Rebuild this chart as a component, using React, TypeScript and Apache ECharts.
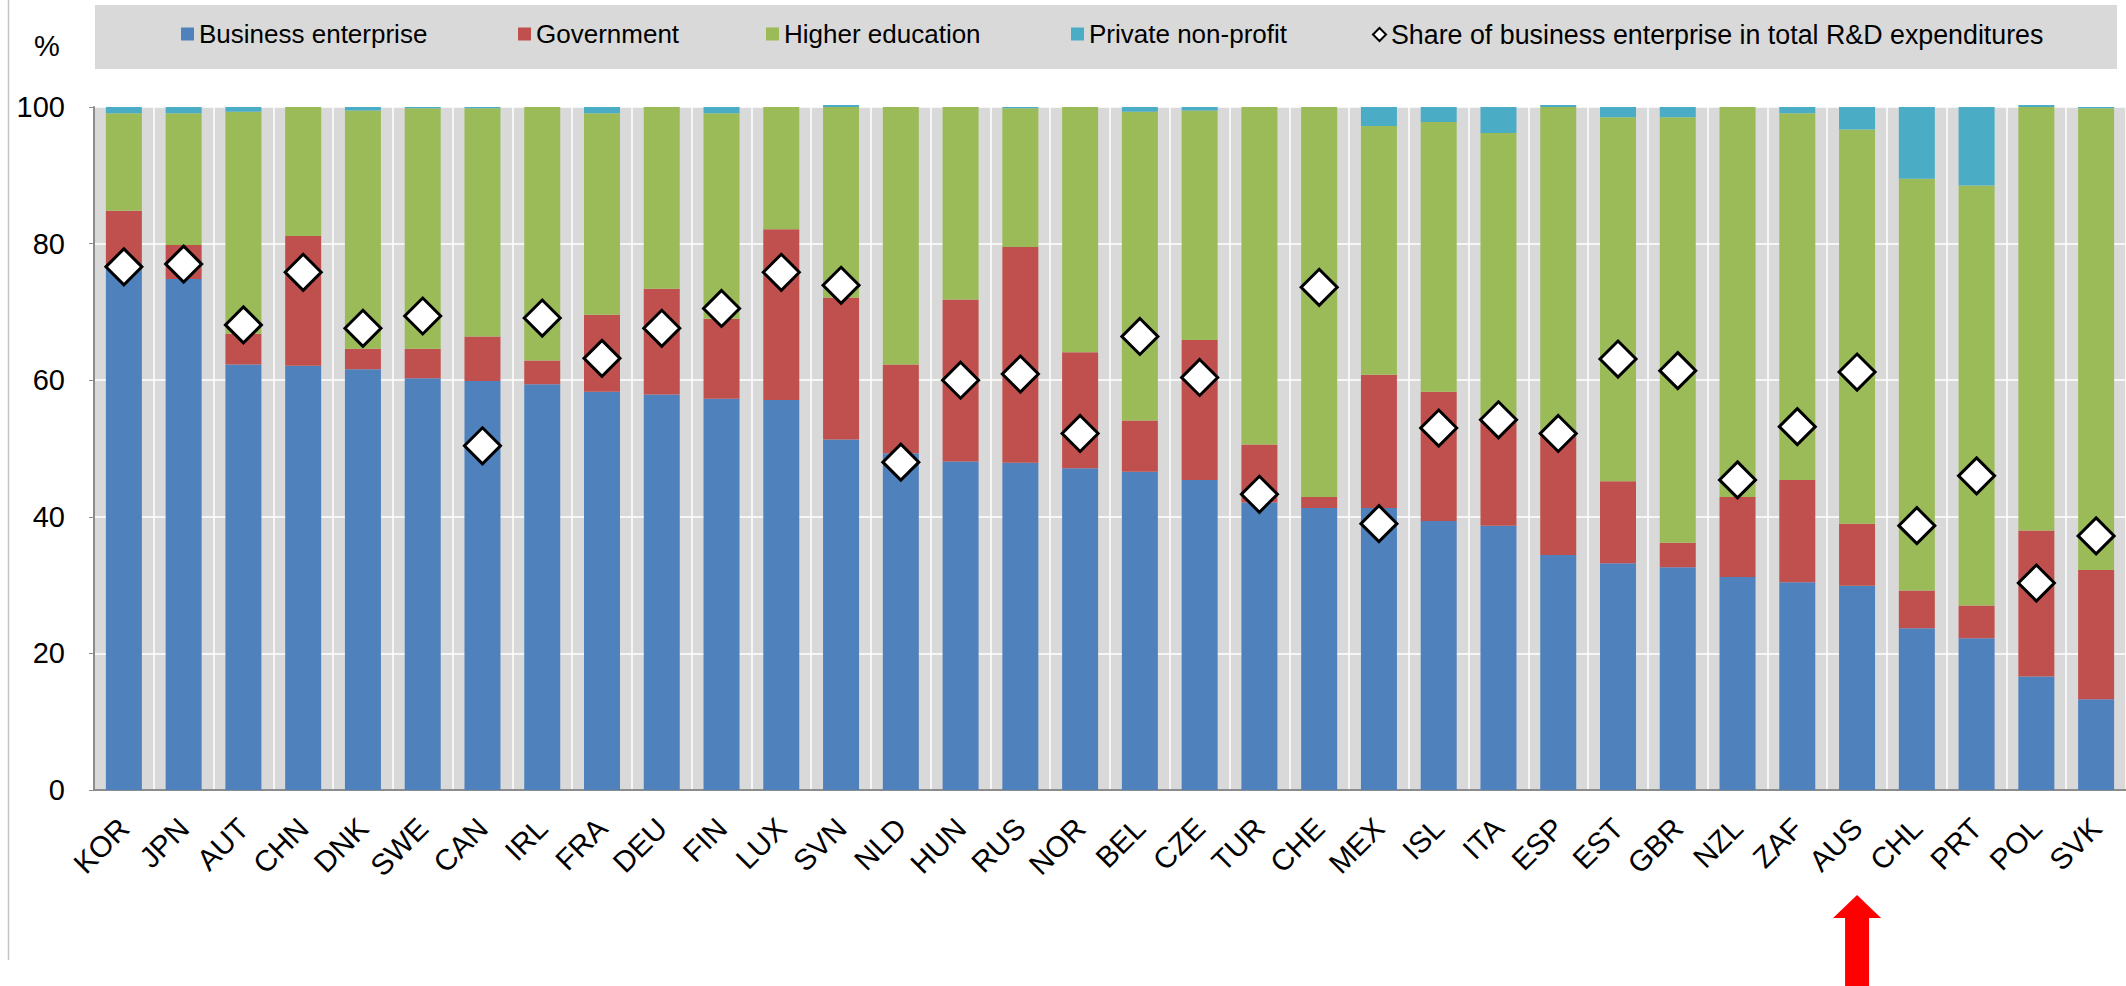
import React, { useEffect, useRef } from "react";
import * as echarts from "echarts";

const countries = ["KOR","JPN","AUT","CHN","DNK","SWE","CAN","IRL","FRA","DEU","FIN","LUX","SVN","NLD","HUN","RUS","NOR","BEL","CZE","TUR","CHE","MEX","ISL","ITA","ESP","EST","GBR","NZL","ZAF","AUS","CHL","PRT","POL","SVK"];
const business = [76.4,74.8,62.3,62.1,61.6,60.3,59.9,59.4,58.3,57.9,57.3,57.1,51.3,49.3,48.1,47.9,47.1,46.6,45.4,42.1,41.3,41.3,39.4,38.7,34.4,33.2,32.6,31.2,30.4,29.9,23.7,22.2,16.6,13.3];
const government = [8.4,5.0,4.5,19.0,3.0,4.3,6.5,3.5,11.3,15.5,11.7,25.0,20.8,13.0,23.7,31.6,17.0,7.5,20.5,8.5,1.6,19.5,18.9,15.8,17.6,12.0,3.6,11.7,15.0,9.1,5.5,4.8,21.4,18.9];
const higherEducation = [14.3,19.3,32.5,18.9,34.9,35.2,33.4,37.1,29.5,26.6,30.1,17.9,27.9,37.7,28.2,20.3,35.9,45.2,33.6,49.4,57.1,36.4,39.5,41.7,48.0,53.3,62.3,57.1,53.7,57.7,60.3,61.5,62.0,67.6];
const privateNonProfit = [0.9,0.9,0.7,0,0.5,0.2,0.2,0,0.9,0,0.9,0,0.3,0,0,0.2,0,0.7,0.5,0,0,2.8,2.2,3.8,0.3,1.5,1.5,0,0.9,3.3,10.5,11.5,0.3,0.2];
const shareBusiness = [76.6,77.0,68.1,75.8,67.6,69.4,50.4,69.1,63.2,67.6,70.5,75.8,73.9,48.0,60.0,60.9,52.2,66.4,60.4,43.3,73.6,39.0,53.0,54.2,52.2,63.1,61.4,45.4,53.2,61.2,38.7,46.0,30.3,37.2];
const yTicks = [0, 20, 40, 60, 80, 100];
const highlighted = "AUS";

const FONT = "'Liberation Sans', Arial, sans-serif";
const NAMES = ["Business enterprise", "Government", "Higher education", "Private non-profit", "Share of business enterprise in total R&D expenditures"];
const COLORS = ["#4f81bd", "#c0504d", "#9bbb59", "#4bacc6"];
const LEGEND_LEFT = [181, 518, 766, 1071, 1372];

export default function App() {
  const ref = useRef<HTMLDivElement>(null);
  useEffect(() => {
    document.body.style.margin = "0";
    const chart = echarts.init(ref.current!, null, { renderer: "svg" });
    const stacks = [business, government, higherEducation, privateNonProfit];
    const barSeries = stacks.map((d, i) => ({
      name: NAMES[i],
      type: "bar",
      stack: "total",
      data: d,
      barWidth: 36,
      clip: false,
      itemStyle: { color: COLORS[i] },
      z: 2,
    }));
    const legends = NAMES.map((n, i) => ({
      left: LEGEND_LEFT[i], top: 21, padding: 0,
      itemWidth: 13, itemHeight: 13,
      textStyle: { fontSize: i === 4 ? 26.8 : 26, color: "#000", fontFamily: FONT },
      data: [
        i === 4
          ? { name: n, icon: "diamond", itemStyle: { color: "#fff", borderColor: "#000", borderWidth: 2 } }
          : { name: n, icon: "rect" },
      ],
    }));
    chart.setOption({
      animation: false,
      textStyle: { fontFamily: FONT },
      grid: {
        left: 94, right: 0, top: 107, bottom: 196,
        show: true, backgroundColor: "#d9d9d9", borderWidth: 0,
      },
      legend: legends,
      xAxis: {
        type: "category",
        data: countries,
        axisLine: { lineStyle: { color: "#8c8c8c", width: 2 } },
        axisTick: { show: false },
        splitLine: { show: true, lineStyle: { color: "#ffffff", width: 1.5 } },
        axisLabel: { rotate: 45, fontSize: 29.5, color: "#000", margin: 33, interval: 0, fontFamily: FONT },
      },
      yAxis: {
        type: "value",
        min: yTicks[0], max: yTicks[yTicks.length - 1], interval: 20,
        axisLine: { show: true, lineStyle: { color: "#8c8c8c", width: 2 } },
        axisTick: { show: true, length: 5, lineStyle: { color: "#8c8c8c" } },
        splitLine: { show: true, lineStyle: { color: "#ffffff", width: 1.5 } },
        axisLabel: { fontSize: 29, color: "#000", margin: 29, fontFamily: FONT },
      },
      series: [
        ...barSeries,
        {
          name: NAMES[4],
          type: "scatter",
          data: shareBusiness,
          symbol: "diamond",
          symbolSize: 36,
          itemStyle: { color: "#ffffff", borderColor: "#000000", borderWidth: 3, opacity: 1 },
          z: 5,
        },
      ],
    });
    const ax = chart.convertToPixel({ xAxisIndex: 0 }, highlighted) as number;
    chart.setOption({
      graphic: [
        { type: "rect", z: -10, shape: { x: 95, y: 5, width: 2022, height: 64 }, style: { fill: "#d9d9d9" } },
        { type: "line", shape: { x1: 8.5, y1: 0, x2: 8.5, y2: 960 }, style: { stroke: "#c4c4c4", lineWidth: 1.5 } },
        { type: "text", x: 47, y: 46, style: { text: "%", fontSize: 29, fill: "#000", fontFamily: FONT, align: "center", verticalAlign: "middle" } },
        {
          type: "polygon",
          shape: { points: [[ax, 895], [ax + 24, 918], [ax + 12, 918], [ax + 12, 986], [ax - 12, 986], [ax - 12, 918], [ax - 24, 918]] },
          style: { fill: "#ff0000" },
        },
      ],
    });
    return () => chart.dispose();
  }, []);
  return <div ref={ref} style={{ width: 2126, height: 986 }} />;
}
